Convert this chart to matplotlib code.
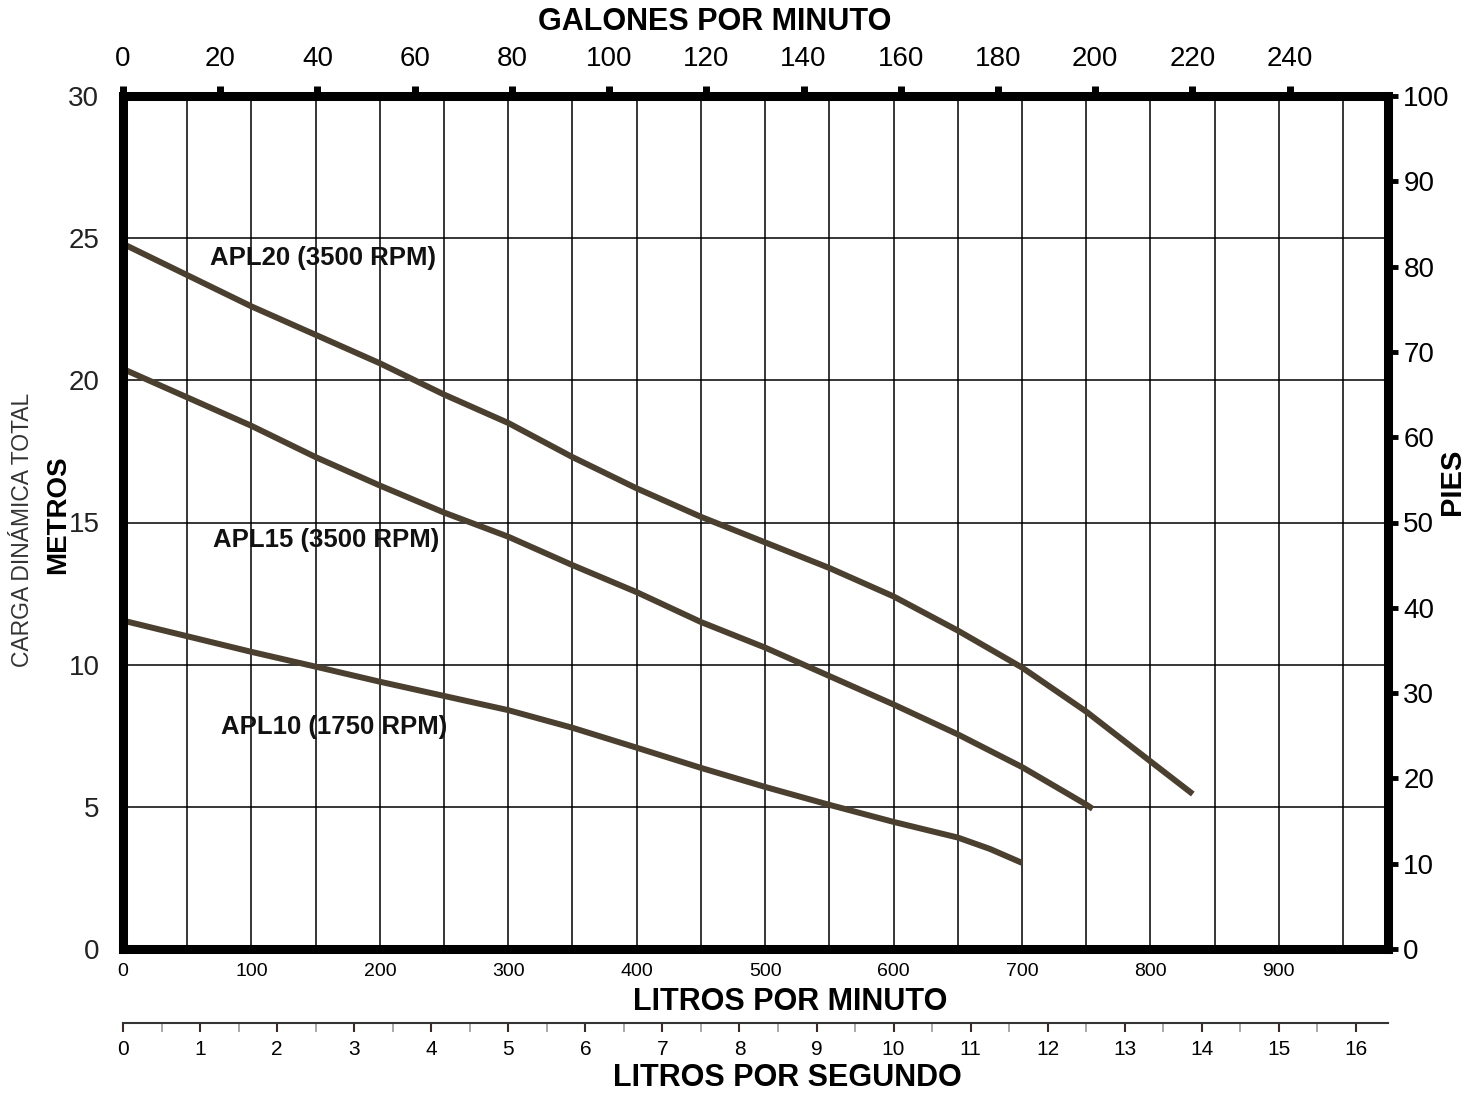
import matplotlib
matplotlib.use('Agg')
import matplotlib.pyplot as plt
from matplotlib.ticker import MultipleLocator

# 데이터 (litros por minuto, metros)
lpm_apl20 = [0, 50, 100, 150, 200, 250, 300, 350, 400, 450, 500, 550, 600, 650, 700, 750, 800, 833]
m_apl20 = [24.8, 23.7, 22.6, 21.6, 20.6, 19.5, 18.5, 17.3, 16.2, 15.2, 14.3, 13.4, 12.4, 11.2, 9.9, 8.35, 6.6, 5.45]

lpm_apl15 = [0, 50, 100, 150, 200, 250, 300, 350, 400, 450, 500, 550, 600, 650, 700, 750, 755]
m_apl15 = [20.4, 19.4, 18.4, 17.3, 16.3, 15.35, 14.5, 13.5, 12.55, 11.5, 10.6, 9.6, 8.6, 7.55, 6.4, 5.08, 4.93]

lpm_apl10 = [0, 50, 100, 150, 200, 250, 300, 350, 400, 450, 500, 550, 600, 650, 675, 700]
m_apl10 = [11.55, 11.0, 10.45, 9.93, 9.4, 8.9, 8.4, 7.78, 7.08, 6.37, 5.7, 5.07, 4.47, 3.92, 3.52, 3.03]

curve_labels = ['APL20 (3500 RPM)', 'APL15 (3500 RPM)', 'APL10 (1750 RPM)']
label_pos = [(68, 24.3), (70, 14.4), (76, 7.8)]

gpm_ticks = list(range(0, 241, 20))
pies_ticks = list(range(0, 101, 10))
lps_ticks = list(range(0, 17))

NARROW = ['Liberation Sans Narrow', 'Liberation Sans', 'DejaVu Sans']
SANS = ['Liberation Sans', 'DejaVu Sans']
LINE_COLOR = '#4b4030'
X_MAX = 985

fig = plt.figure(figsize=(14.81, 10.93), dpi=100)
W, H = 1481, 1093
left, right, top, bottom = 123, 1388, 96, 949
pos = [left / W, 1 - bottom / H, (right - left) / W, (bottom - top) / H]
ax = fig.add_axes(pos)

# 곡선
for x, y in [(lpm_apl20, m_apl20), (lpm_apl15, m_apl15), (lpm_apl10, m_apl10)]:
    ax.plot(x, y, color=LINE_COLOR, lw=4.3, solid_capstyle='butt', zorder=3)
for txt, (x, y) in zip(curve_labels, label_pos):
    ax.text(x, y, txt, ha='left', va='center', fontsize=18.5, fontweight='bold',
            family=NARROW, color='#111111', zorder=4)

ax.set_xlim(0, X_MAX)
ax.set_ylim(0, 30)
ax.xaxis.set_major_locator(MultipleLocator(100))
ax.xaxis.set_minor_locator(MultipleLocator(50))
ax.yaxis.set_major_locator(MultipleLocator(5))
ax.grid(True, which='both', axis='x', color='black', lw=1.1, zorder=1)
ax.grid(True, which='major', axis='y', color='black', lw=1.1, zorder=1)
ax.set_axisbelow(True)
for s in ax.spines.values():
    s.set_linewidth(6.5)
    s.set_zorder(5)

ax.tick_params(axis='x', which='both', length=0, pad=10, labelsize=14)
ax.tick_params(axis='y', length=0, pad=17, labelsize=20, labelcolor='#222222')
for lab in ax.get_xticklabels():
    lab.set_family(NARROW)
for lab in ax.get_yticklabels():
    lab.set_family(NARROW)

# 상단 축: galones por minuto
top_ax = ax.secondary_xaxis('top', functions=(lambda v: v / 3.785, lambda v: v * 3.785))
top_ax.set_xticks(gpm_ticks)
top_ax.tick_params(direction='out', length=7, width=5, pad=10, labelsize=20)
top_ax.spines['top'].set_linewidth(0)
for lab in top_ax.get_xticklabels():
    lab.set_family(SANS)

# 오른쪽 축: pies
ax2 = ax.twinx()
ax2.set_ylim(0, 100)
ax2.set_yticks(pies_ticks)
ax2.tick_params(axis='y', direction='out', length=7, width=3.5, pad=4, labelsize=20)
for s in ax2.spines.values():
    s.set_visible(False)
for lab in ax2.get_yticklabels():
    lab.set_family(SANS)

# 하단 축: litros por segundo
lps_y = 1023
ax3 = fig.add_axes([left / W, 1 - lps_y / H, (right - left) / W, 0.0001])
ax3.set_xlim(0, X_MAX / 60)
ax3.set_yticks([])
ax3.set_xticks(lps_ticks)
ax3.xaxis.set_minor_locator(MultipleLocator(0.5))
for name in ['left', 'right', 'top']:
    ax3.spines[name].set_visible(False)
ax3.spines['bottom'].set_linewidth(1.5)
ax3.spines['bottom'].set_color('#333333')
ax3.tick_params(axis='x', which='major', direction='out', length=6.5, width=1.5,
                color='#3a2a2a', pad=6, labelsize=15)
ax3.tick_params(axis='x', which='minor', direction='out', length=6.5, width=1.2, color='#999999')
ax3.patch.set_visible(False)
for lab in ax3.get_xticklabels():
    lab.set_family(NARROW)

# 제목
fig.text(715 / W, 1 - 22 / H, 'GALONES POR MINUTO', ha='center', va='center',
         fontsize=22, fontweight='bold', family=SANS)
fig.text(790 / W, 1 - 1002 / H, 'LITROS POR MINUTO', ha='center', va='center',
         fontsize=22, fontweight='bold', family=SANS)
fig.text(787 / W, 1 - 1078 / H, 'LITROS POR SEGUNDO', ha='center', va='center',
         fontsize=22, fontweight='bold', family=SANS)
fig.text(1452 / W, 1 - 482 / H, 'PIES', ha='center', va='center', rotation=90,
         fontsize=21, fontweight='bold', family=SANS)
fig.text(23 / W, 1 - 530 / H, 'CARGA DINÁMICA TOTAL', ha='center', va='center', rotation=90,
         fontsize=16.5, family=NARROW, color='#333333')
fig.text(58 / W, 1 - 515 / H, 'METROS', ha='center', va='center', rotation=90,
         fontsize=20, fontweight='bold', family=SANS)

fig.savefig('out.png', dpi=100)
